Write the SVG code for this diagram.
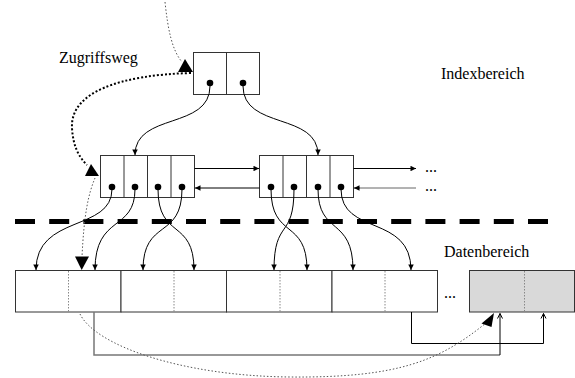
<svg xmlns="http://www.w3.org/2000/svg" width="575" height="378" viewBox="0 0 575 378">
<style>
.box{fill:#fff;stroke:#333;stroke-width:1}
.div{stroke:#333;stroke-width:1}
.dotdiv{stroke:#888;stroke-width:1;stroke-dasharray:1.5 1.5}
.dot{fill:#000}
.con{fill:none;stroke:#000;stroke-width:1}
.lbl{font-family:"Liberation Serif","Times New Roman",serif;font-size:16px;fill:#000}
.path1{fill:none;stroke:#000;stroke-width:2;stroke-dasharray:2 2}
.path2{fill:none;stroke:#555;stroke-width:1;stroke-dasharray:1.5 2}
</style>
<defs>
<marker id="ah" viewBox="0 0 10 10" refX="10" refY="5" markerWidth="6" markerHeight="5.5" markerUnits="userSpaceOnUse" orient="auto">
<path d="M0,0 L10,5 L0,10 z" fill="#000"/>
</marker>
</defs>

<text class="lbl" x="59" y="63">Zugriffsweg</text>
<text class="lbl" x="441" y="79">Indexbereich</text>
<text class="lbl" x="444" y="257">Datenbereich</text>

<g id="root">
<rect class="box" x="193.5" y="52.5" width="66" height="42"/>
<line class="div" x1="226.5" y1="52.5" x2="226.5" y2="94.5"/>
<circle class="dot" cx="210" cy="83" r="3.3"/>
<circle class="dot" cx="243" cy="83" r="3.3"/>
</g>

<g id="index-left">
<rect class="box" x="100.5" y="155.5" width="94" height="42"/>
<line class="div" x1="124" y1="155.5" x2="124" y2="197.5"/>
<line class="div" x1="147.5" y1="155.5" x2="147.5" y2="197.5"/>
<line class="div" x1="171" y1="155.5" x2="171" y2="197.5"/>
<circle class="dot" cx="112" cy="187" r="3.3"/>
<circle class="dot" cx="135" cy="187" r="3.3"/>
<circle class="dot" cx="158" cy="187" r="3.3"/>
<circle class="dot" cx="182" cy="187" r="3.3"/>
</g>

<g id="index-right">
<rect class="box" x="259.5" y="155.5" width="94" height="42"/>
<line class="div" x1="283" y1="155.5" x2="283" y2="197.5"/>
<line class="div" x1="306.5" y1="155.5" x2="306.5" y2="197.5"/>
<line class="div" x1="330" y1="155.5" x2="330" y2="197.5"/>
<circle class="dot" cx="271" cy="187" r="3.3"/>
<circle class="dot" cx="294" cy="187" r="3.3"/>
<circle class="dot" cx="318" cy="187" r="3.3"/>
<circle class="dot" cx="341" cy="187" r="3.3"/>
</g>

<text class="lbl" x="425" y="171.5">...</text>
<text class="lbl" x="425" y="190.5">...</text>

<line x1="15" y1="221.5" x2="548" y2="221.5" stroke="#000" stroke-width="5" stroke-dasharray="20 14.2"/>

<g id="data1">
<rect class="box" x="15.5" y="270.5" width="105.5" height="41.5"/>
<line class="dotdiv" x1="68.5" y1="271" x2="68.5" y2="312"/>
</g>
<g id="data2">
<rect class="box" x="121" y="270.5" width="105.5" height="41.5"/>
<line class="dotdiv" x1="174" y1="271" x2="174" y2="312"/>
</g>
<g id="data3">
<rect class="box" x="226.5" y="270.5" width="105.5" height="41.5"/>
<line class="dotdiv" x1="280" y1="271" x2="280" y2="312"/>
</g>
<g id="data4">
<rect class="box" x="332" y="270.5" width="105.5" height="41.5"/>
<line class="dotdiv" x1="385" y1="271" x2="385" y2="312"/>
</g>
<text class="lbl" x="444" y="298">...</text>
<g id="overflow">
<rect x="469.5" y="270.5" width="105" height="41.5" fill="#d9d9d9" stroke="#333" stroke-width="1"/>
<line class="dotdiv" x1="524.5" y1="271" x2="524.5" y2="312" stroke="#555"/>
</g>

<g id="connectors">
<path class="con" d="M210,86 C210,130 135,112 135,155" marker-end="url(#ah)"/>
<path class="con" d="M243,86 C243,130 318,112 318,155" marker-end="url(#ah)"/>
<line class="con" x1="194.5" y1="168.5" x2="259" y2="168.5" marker-end="url(#ah)"/>
<line class="con" x1="259.5" y1="188" x2="195" y2="188" marker-end="url(#ah)"/>
<line class="con" x1="353.5" y1="168.5" x2="416" y2="168.5" marker-end="url(#ah)"/>
<line x1="416" y1="188" x2="360" y2="188" stroke="#666" stroke-width="1"/>
<line class="con" x1="360" y1="188" x2="354" y2="188" marker-end="url(#ah)"/>

<path class="con" d="M112,189 C112,232 36,214 36,270" marker-end="url(#ah)"/>
<path class="con" d="M135,189 C135,232 95,214 95,270" marker-end="url(#ah)"/>
<path class="con" d="M158,189 C158,240 194,218 194,270" marker-end="url(#ah)"/>
<path class="con" d="M182,189 C182,240 143,218 143,270" marker-end="url(#ah)"/>
<path class="con" d="M271,189 C271,240 307,218 307,270" marker-end="url(#ah)"/>
<path class="con" d="M294,189 C294,240 274,218 274,270" marker-end="url(#ah)"/>
<path class="con" d="M318,189 C318,236 353,216 353,270" marker-end="url(#ah)"/>
<path class="con" d="M341,189 C341,236 411,214 411,270" marker-end="url(#ah)"/>

<polyline points="94,312 94,355 500,355" fill="none" stroke="#777" stroke-width="1.5"/>
<line class="con" x1="500" y1="355" x2="500" y2="313.5"/>
<polyline class="con" points="497.5,318.5 500,313.5 502.5,318.5"/>
<polyline class="con" points="411.5,312 411.5,343.5 543.5,343.5 543.5,313.5"/>
<polyline class="con" points="541,318.5 543.5,313.5 546,318.5"/>

<path class="path2" d="M165,2 C168,30 172,50 182,62"/>
<polygon points="178,72 193,72 185,59" fill="#000"/>
<path class="path1" d="M191,73 C120,75 70,92 72,128 C73,145 78,156 87,165"/>
<polygon points="85,176 99,176 91,164" fill="#000"/>
<path class="path2" d="M95,178 C88,195 84,215 82,257"/>
<polygon points="75,256.5 89,256.5 81.7,270" fill="#000"/>
<path class="path2" d="M80,314 C95,345 180,376 290,377 S440,360 486,323"/>
<polygon points="481.5,323.5 494,313 491.5,327" fill="#000"/>
</g>
</svg>
